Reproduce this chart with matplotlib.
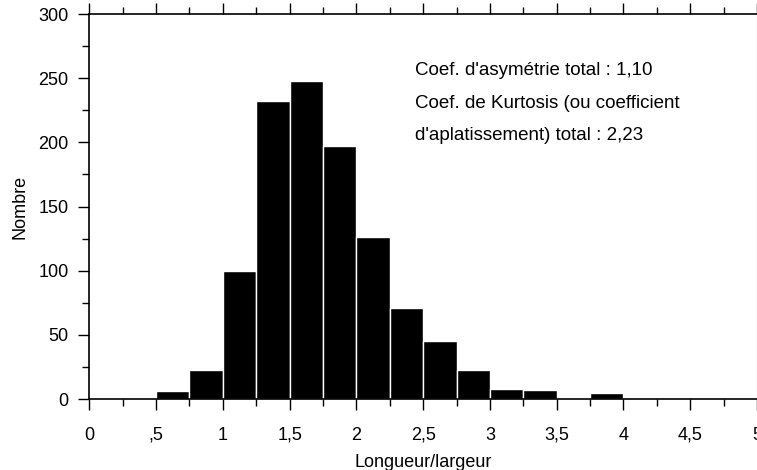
import matplotlib
matplotlib.use("Agg")
import matplotlib.pyplot as plt
from matplotlib.ticker import MultipleLocator

# === Data (bins of 0.25) ===
bin_left = [0.0, 0.25, 0.5, 0.75, 1.0, 1.25, 1.5, 1.75, 2.0, 2.25,
            2.5, 2.75, 3.0, 3.25, 3.5, 3.75, 4.0, 4.25, 4.5, 4.75]
counts = [0, 0, 6, 23, 100, 232, 248, 197, 126, 71,
          45, 23, 8, 7, 1, 5, 1, 1, 0, 0]
bin_width = 0.25

xtick_pos = [0, 0.5, 1, 1.5, 2, 2.5, 3, 3.5, 4, 4.5, 5]
xtick_labels = ["0", ",5", "1", "1,5", "2", "2,5", "3", "3,5", "4", "4,5", "5"]
ytick_pos = [0, 50, 100, 150, 200, 250, 300]

notes = ["Coef. d'asymétrie total : 1,10",
         "Coef. de Kurtosis (ou coefficient",
         "d'aplatissement) total : 2,23"]
note_y = [256, 230, 205]

plt.rcParams['font.family'] = ['Liberation Sans', 'DejaVu Sans']

fig = plt.figure(figsize=(7.57, 4.70), dpi=100)
ax = fig.add_axes([0.118, 0.151, 0.882, 0.819])

ax.bar(bin_left, counts, width=bin_width, align='edge',
       color='black', edgecolor='white', linewidth=1.0)

ax.set_xlim(0, 5)
ax.set_ylim(0, 300)

ax.set_xticks(xtick_pos)
ax.set_xticklabels(xtick_labels, fontsize=13)
ax.set_yticks(ytick_pos)
ax.set_yticklabels([str(v) for v in ytick_pos], fontsize=13)
ax.xaxis.set_minor_locator(MultipleLocator(0.25))
ax.yaxis.set_minor_locator(MultipleLocator(25))

ax.tick_params(axis='x', which='major', top=True, direction='out', length=8, width=1, pad=12)
ax.tick_params(axis='x', which='minor', top=True, direction='out', length=5, width=1)
ax.tick_params(axis='y', which='major', direction='out', length=8, width=1, pad=7)
ax.tick_params(axis='y', which='minor', direction='out', length=5, width=1)

for side in ['left', 'bottom', 'top']:
    ax.spines[side].set_linewidth(1.2)
ax.spines['right'].set_color('#999999')

ax.set_xlabel("Longueur/largeur", fontsize=13, labelpad=7)
ax.set_ylabel("Nombre", fontsize=13, labelpad=7)

for txt, yy in zip(notes, note_y):
    ax.text(2.44, yy, txt, fontsize=13.5, ha='left', va='center')

fig.savefig("out.png", dpi=100)
